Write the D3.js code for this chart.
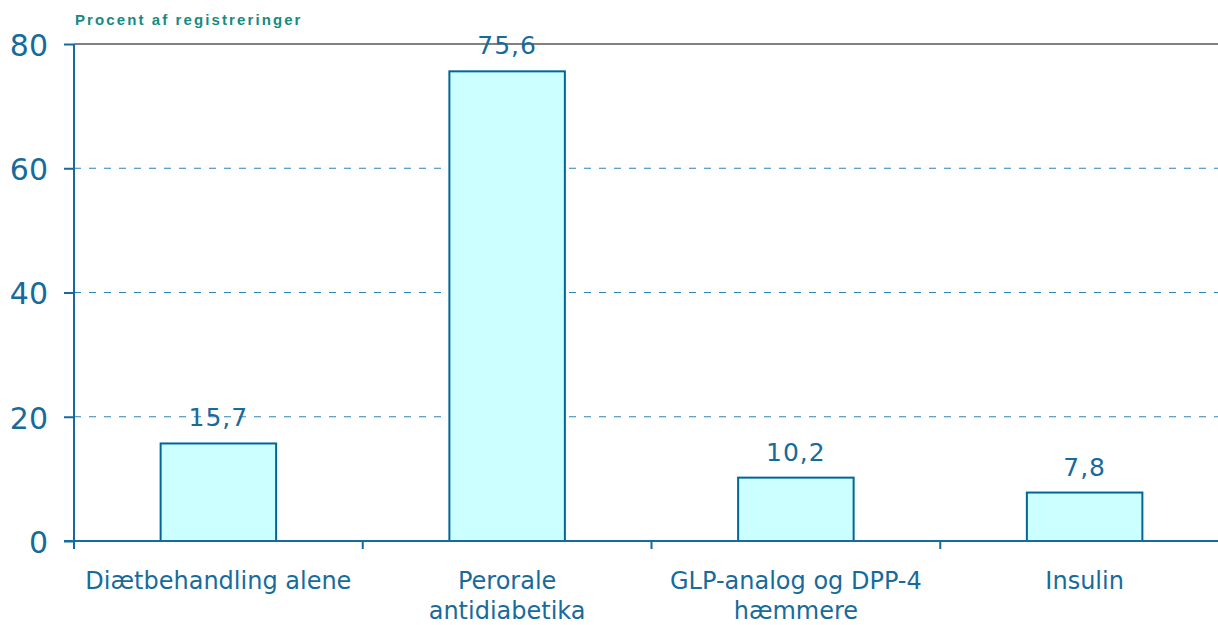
<!DOCTYPE html>
<html>
<head>
<meta charset="utf-8">
<script src="https://cdn.jsdelivr.net/npm/d3@7"></script>
<style>
  html, body { margin: 0; padding: 0; background: #fff; }
  svg { display: block; }
</style>
</head>
<body>
<svg id="chart" width="1218" height="625"></svg>
<script>
// Behandlingsform, andel af registreringer (%)
const categories = ["Diætbehandling alene", "Perorale antidiabetika", "GLP-analog og DPP-4 hæmmere", "Insulin"];
const categoryLines = [["Diætbehandling alene"], ["Perorale", "antidiabetika"], ["GLP-analog og DPP-4", "hæmmere"], ["Insulin"]];
const values = [15.7, 75.6, 10.2, 7.8];
const valueLabels = ["15,7", "75,6", "10,2", "7,8"];
const yTicks = [0, 20, 40, 60, 80];
const yTitle = "Procent af registreringer";

const svg = d3.select("#chart");
const W = 1218;
const plotLeft = 74, plotTop = 44, plotBottom = 541;
const blue = "#176b9c";

const y = d3.scaleLinear().domain([0, 80]).range([plotBottom, plotTop]);
const x = d3.scaleBand().domain(categories)
  .range([plotLeft, plotLeft + 4 * 288.75])
  .paddingInner(0.6).paddingOuter(0.3);

// Gridlines: solid grey at the top, dashed blue below
svg.append("g").selectAll("line")
  .data(yTicks.filter(d => d > 0))
  .join("line")
  .attr("x1", plotLeft).attr("x2", W)
  .attr("y1", d => y(d)).attr("y2", d => y(d))
  .attr("stroke", d => d === 80 ? "#808080" : "#2f83b8")
  .attr("stroke-width", d => d === 80 ? 2 : 1.2)
  .attr("stroke-dasharray", d => d === 80 ? null : "7,8");

// Bars
svg.append("g").selectAll("rect")
  .data(values)
  .join("rect")
  .attr("x", (d, i) => x(categories[i]))
  .attr("width", x.bandwidth())
  .attr("y", d => y(d))
  .attr("height", d => y(0) - y(d))
  .attr("fill", "#ccffff")
  .attr("stroke", "#006699")
  .attr("stroke-width", 2);

// Value labels
svg.append("g").selectAll("text")
  .data(values)
  .join("text")
  .attr("x", (d, i) => x(categories[i]) + x.bandwidth() / 2)
  .attr("y", d => y(d) - 17)
  .attr("text-anchor", "middle")
  .attr("font-family", "DejaVu Sans")
  .attr("font-size", 25)
  .attr("letter-spacing", 1)
  .attr("fill", blue)
  .text((d, i) => valueLabels[i]);

// Y axis
const yAxis = svg.append("g")
  .attr("transform", `translate(${plotLeft},0)`)
  .call(d3.axisLeft(y).tickValues(yTicks).tickSize(10).tickPadding(16).tickFormat(d3.format("d")));
yAxis.select(".domain").remove();
yAxis.selectAll(".tick line").attr("stroke", blue).attr("stroke-width", 2);
yAxis.selectAll(".tick text")
  .attr("font-family", "DejaVu Sans").attr("font-size", 30)
  .attr("fill", blue).attr("dy", "0.38em");
svg.append("line")
  .attr("x1", plotLeft).attr("x2", plotLeft)
  .attr("y1", plotTop).attr("y2", plotBottom + 8)
  .attr("stroke", blue).attr("stroke-width", 2);

// X axis line and category separators
svg.append("line")
  .attr("x1", plotLeft - 10).attr("x2", W)
  .attr("y1", plotBottom).attr("y2", plotBottom)
  .attr("stroke", blue).attr("stroke-width", 2);
const step = x.step();
svg.append("g").selectAll("line")
  .data(d3.range(1, categories.length))
  .join("line")
  .attr("x1", i => plotLeft + i * step).attr("x2", i => plotLeft + i * step)
  .attr("y1", plotBottom).attr("y2", plotBottom + 8)
  .attr("stroke", blue).attr("stroke-width", 2);

// Category labels
const cat = svg.append("g").selectAll("text")
  .data(categories)
  .join("text")
  .attr("x", d => x(d) + x.bandwidth() / 2)
  .attr("y", 589)
  .attr("text-anchor", "middle")
  .attr("font-family", "DejaVu Sans")
  .attr("font-size", 24)
  .attr("fill", blue);
cat.each(function(d, i) {
  d3.select(this).selectAll("tspan")
    .data(categoryLines[i])
    .join("tspan")
    .attr("x", x(d) + x.bandwidth() / 2)
    .attr("dy", (t, j) => j === 0 ? 0 : 30)
    .text(t => t);
});

// Axis title
svg.append("text")
  .attr("x", 75).attr("y", 25)
  .attr("font-family", "Liberation Sans")
  .attr("font-weight", "bold")
  .attr("font-size", 15)
  .attr("letter-spacing", 2.1)
  .attr("fill", "#178a82")
  .text(yTitle);
</script>
</body>
</html>
